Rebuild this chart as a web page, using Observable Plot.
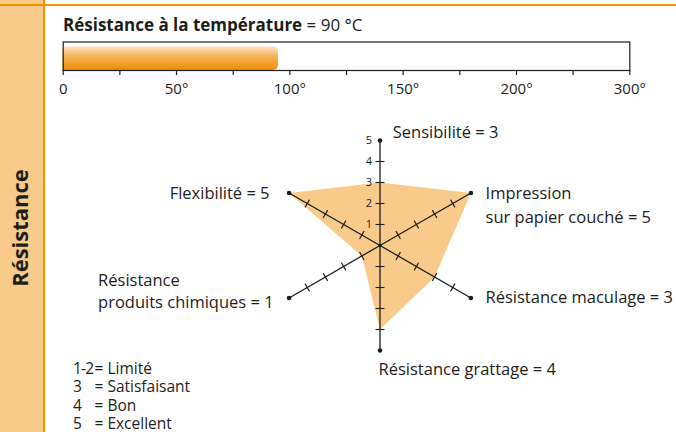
<!DOCTYPE html>
<html><head><meta charset="utf-8">
<script src="https://cdn.jsdelivr.net/npm/d3@7"></script>
<script src="https://cdn.jsdelivr.net/npm/@observablehq/plot@0.6"></script>
<style>
body{margin:0;background:#fff;}
#chart{position:relative;width:676px;height:432px;overflow:hidden;background:#fff;font-family:"Open Sans",sans-serif;color:#1d1d1b;}
#chart > *{position:absolute;}
#topline{left:0;top:3.5px;width:676px;height:2px;background:#F39200;}
#title{left:63px;top:15.2px;font-size:17px;line-height:20px;white-space:nowrap;}
#title b{font-weight:700;}
#legend{left:73px;top:358.5px;font-size:15.5px;line-height:18.5px;}
#legend .row{position:relative;height:18.5px;white-space:nowrap;}
#legend .k{position:absolute;left:0;letter-spacing:-0.8px;}
#legend .v{position:absolute;left:21.5px;}
</style></head><body><div id="chart"></div>
<script>
// ---- data ----
const axisNames = ["Sensibilité", "Impression\nsur papier couché", "Résistance maculage", "Résistance grattage", "Résistance\nproduits chimiques", "Flexibilité"];
const axisValues = [3, 5, 3, 4, 1, 5];
const axisAngles = [90, 30, -30, -90, 210, 150];
const scaleMax = 5;
const scaleTicks = [1, 2, 3, 4, 5];
const tempTitle = "Résistance à la température";
const tempValue = 90;
const tempUnit = "°C";
const tempBarEnd = 95;           // bar end as drawn in the picture
const tempScaleBreaks = [0, 50, 100, 150, 200, 300];
const tempMajorLabels = ["0", "50°", "100°", "150°", "200°", "300°"];
const tempMinorTicks = [25, 75, 125, 175, 250];
const legendKeys = ["1-2", "3", "4", "5"];
const legendLabels = ["Limité", "Satisfaisant", "Bon", "Excellent"];
const sideTitle = "Résistance";

// ---- layout / style ----
const ink = "#1d1d1b";
const orange = "#F39200";
const fillLight = "#F9CB8B";
const W = 676, H = 432;
const cx = 379.5, cy = 245, unit = 21;
const font = "'Open Sans', sans-serif";
const chart = d3.select("#chart");

// sidebar
const side = chart.append("svg").attr("width", 46).attr("height", H).style("left", "0px").style("top", "0px");
side.append("rect").attr("x", 0).attr("y", 0).attr("width", 44).attr("height", H).attr("fill", fillLight);
side.append("rect").attr("x", 43).attr("y", 0).attr("width", 2).attr("height", H).attr("fill", orange);
side.append("text").attr("transform", "translate(28,228) rotate(-90)").attr("text-anchor", "middle")
  .attr("font-family", font).attr("font-weight", 700).attr("font-size", 22).attr("fill", ink).text(sideTitle);
chart.append("div").attr("id", "topline");

// radar
const rad = a => a * Math.PI / 180;
const axes = axisNames.map((name, i) => ({name, value: axisValues[i], angle: axisAngles[i]}));
const polygon = axes.map(d => ({x: d.value * Math.cos(rad(d.angle)), y: d.value * Math.sin(rad(d.angle))}));
const h = 4.5 / unit;
const ticks = [];
axes.forEach(d => {
  for (let k = 1; k < scaleMax; k++) {
    const c = Math.cos(rad(d.angle)), s = Math.sin(rad(d.angle));
    ticks.push({x1: k * c + s * h, y1: k * s - c * h, x2: k * c - s * h, y2: k * s + c * h});
  }
});
const labelLayout = [
  {dx: 12.8, dy: -10.3, anchor: "start", lh: 1.4},
  {dx: 14.6, dy: 10.4, anchor: "start", lh: 1.43},
  {dx: 14.6, dy: -2, anchor: "start", lh: 1.4},
  {dx: -1.5, dy: 17.3, anchor: "start", lh: 1.4},
  {dx: -191, dy: -8.5, anchor: "start", lh: 1.33},
  {dx: -19.5, dy: -1.5, anchor: "end", lh: 1.4}
];
const labelMarks = axes.map((d, i) => Plot.text([d], {
  x: d => scaleMax * Math.cos(rad(d.angle)),
  y: d => scaleMax * Math.sin(rad(d.angle)),
  text: d => d.name + " = " + d.value,
  dx: labelLayout[i].dx, dy: labelLayout[i].dy,
  textAnchor: labelLayout[i].anchor, lineHeight: labelLayout[i].lh,
  fontSize: 16.5, fill: ink
}));
const radar = Plot.plot({
  width: W, height: H, margin: 0,
  style: {background: "transparent", fontFamily: font, color: ink, overflow: "visible"},
  x: {type: "linear", domain: [-cx / unit, (W - cx) / unit], range: [0, W], axis: null},
  y: {type: "linear", domain: [(cy - H) / unit, cy / unit], range: [H, 0], axis: null},
  marks: [
    Plot.line(polygon, {x: "x", y: "y", fill: fillLight, stroke: "none", curve: "linear-closed"}),
    Plot.link(axes, {x1: () => 0, y1: () => 0, x2: d => scaleMax * Math.cos(rad(d.angle)), y2: d => scaleMax * Math.sin(rad(d.angle)), stroke: ink, strokeWidth: 1.3}),
    Plot.link(ticks, {x1: "x1", y1: "y1", x2: "x2", y2: "y2", stroke: ink, strokeWidth: 1.1}),
    Plot.dot(axes, {x: d => scaleMax * Math.cos(rad(d.angle)), y: d => scaleMax * Math.sin(rad(d.angle)), r: 2.3, fill: ink, stroke: "none"}),
    Plot.dot([0], {x: () => 0, y: () => 0, r: 1.8, fill: ink, stroke: "none"}),
    Plot.text(scaleTicks, {x: () => 0, y: d => d, text: d => String(d), dx: -8, textAnchor: "end", fontSize: 11, fill: ink}),
    ...labelMarks
  ]
});
d3.select(radar).style("left", "0px").style("top", "0px");
chart.node().appendChild(radar);

// temperature bar
const temp = Plot.plot({
  width: W, height: 100,
  marginLeft: 62.7, marginRight: W - 629.3, marginTop: 41.5, marginBottom: 30,
  style: {background: "transparent", fontFamily: font, fontSize: "15px", color: ink, overflow: "visible"},
  x: {type: "linear", domain: tempScaleBreaks, axis: null},
  y: {type: "linear", domain: [0, 1], axis: null},
  marks: [
    Plot.rect([tempBarEnd], {x1: () => 0, x2: d => d, y1: () => 0, y2: () => 0.82, fill: "url(#tempGrad)", rx: 5}),
    Plot.rect([tempBarEnd], {x1: () => 0, x2: d => d, y1: () => 0, y2: () => 0.82, fill: "url(#tempGrad)", insetRight: 8}),
    Plot.frame({stroke: ink, strokeWidth: 1.2}),
    Plot.axisX({ticks: tempMinorTicks, tickSize: 5, tickFormat: () => "", stroke: ink, strokeWidth: 1.2, label: null}),
    Plot.axisX({ticks: tempScaleBreaks, tickSize: 5, tickPadding: 8, tickFormat: d => tempMajorLabels[tempScaleBreaks.indexOf(d)], stroke: ink, strokeWidth: 1.2, fill: ink, label: null, fontSize: 15})
  ]
});
d3.select(temp).insert("defs", ":first-child").html(
  '<linearGradient id="tempGrad" x1="0" y1="0" x2="0" y2="1">' +
  '<stop offset="0" stop-color="#FCE3C2"/><stop offset="0.4" stop-color="#F7B55C"/><stop offset="1" stop-color="#F08C00"/></linearGradient>');
d3.select(temp).style("left", "0px").style("top", "0px");
chart.node().appendChild(temp);

// title
chart.append("div").attr("id", "title").html("<b>" + tempTitle + "</b> = " + tempValue + " " + tempUnit);

// legend
const lg = chart.append("div").attr("id", "legend");
legendKeys.forEach((k, i) => {
  const row = lg.append("div").attr("class", "row");
  row.append("span").attr("class", "k").text(k);
  row.append("span").attr("class", "v").text("= " + legendLabels[i]);
});
</script></body></html>
